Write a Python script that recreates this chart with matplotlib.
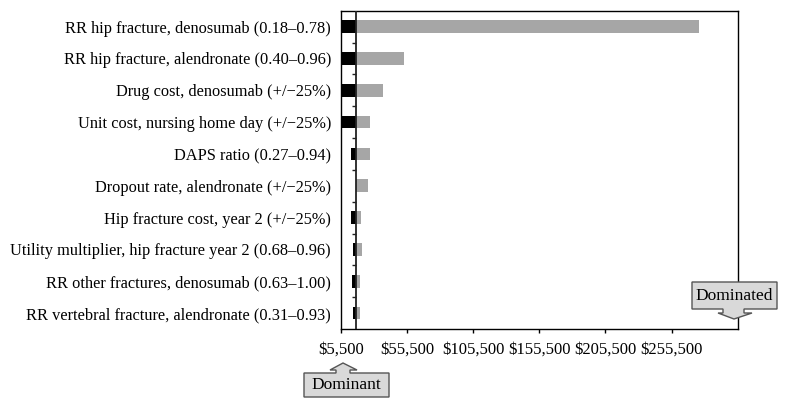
import matplotlib
matplotlib.use("Agg")
import matplotlib.pyplot as plt
from matplotlib.patches import Polygon
from matplotlib.transforms import Affine2D

plt.rcParams['font.family'] = ['Liberation Serif', 'DejaVu Serif']

# donnees
params = [
    "RR hip fracture, denosumab (0.18\u20130.78)",
    "RR hip fracture, alendronate (0.40\u20130.96)",
    "Drug cost, denosumab (+/\u221225%)",
    "Unit cost, nursing home day (+/\u221225%)",
    "DAPS ratio (0.27\u20130.94)",
    "Dropout rate, alendronate (+/\u221225%)",
    "Hip fracture cost, year 2 (+/\u221225%)",
    "Utility multiplier, hip fracture year 2 (0.68\u20130.96)",
    "RR other fractures, denosumab (0.63\u20131.00)",
    "RR vertebral fracture, alendronate (0.31\u20130.93)",
]
base_icer = 17000
low_icer = [0, 0, 0, 6700, 13000, 17000, 13000, 14500, 13800, 14500]
high_icer = [276300, 53100, 37500, 27750, 27750, 26000, 21000, 21700, 20000, 20250]
xticks = [5500, 55500, 105500, 155500, 205500, 255500]
xlim = (5500, 305500)

W, H = 787, 408
fig = plt.figure(figsize=(W / 100, H / 100), dpi=100)
ax = fig.add_axes([340.7 / W, 1 - 329 / H, 397 / W, 318.3 / H])

y = list(range(len(params)))
lows = [min(l, base_icer) for l in low_icer]
ax.barh(y, [base_icer - l for l in lows], left=lows, height=0.4, color='black')
ax.barh(y, [h - base_icer for h in high_icer], left=base_icer, height=0.4, color='#a6a6a6')
ax.axvline(base_icer, color='#222222', lw=1.3, zorder=3)
# petits traits sur la ligne de base
ax.plot([base_icer] * (len(params) - 1), [i + 0.5 for i in y[:-1]], ls='none',
        marker=0, ms=3, mew=1, color='#222222', zorder=3)

ax.set_xlim(*xlim)
ax.set_ylim(len(params) - 0.5, -0.5)
ax.set_xticks(xticks)
ax.set_xticklabels(['${:,}'.format(v) for v in xticks], fontsize=12)
ax.set_yticks(y)
ax.set_yticklabels(params, fontsize=11.8)
ax.tick_params(axis='y', length=0, pad=7)
ax.tick_params(axis='x', length=3, width=1, pad=6)
for s in ax.spines.values():
    s.set_linewidth(1)

# fleches "Dominant" / "Dominated" en pixels
px = Affine2D().scale(1 / W, -1 / H).translate(0, 1) + fig.transFigure


def callout(pts, text, cx, cy):
    fig.patches.append(Polygon(pts, closed=True, transform=px, facecolor='#d9d9d9',
                               edgecolor='#555555', lw=1, clip_on=False))
    fig.text(cx, cy, text, transform=px, ha='center', va='center', fontsize=12.5)


callout([(304, 397), (304, 373), (336, 373), (336, 370), (330, 370), (343, 363),
         (357, 370), (350, 370), (350, 373), (389, 373), (389, 397)],
        "Dominant", 346.5, 385)
callout([(692, 282), (777, 282), (777, 309), (744, 309), (744, 313), (752, 313),
         (734, 319), (718, 313), (723, 313), (723, 309), (692, 309)],
        "Dominated", 734.5, 295.5)

fig.savefig("out.png", dpi=100)
